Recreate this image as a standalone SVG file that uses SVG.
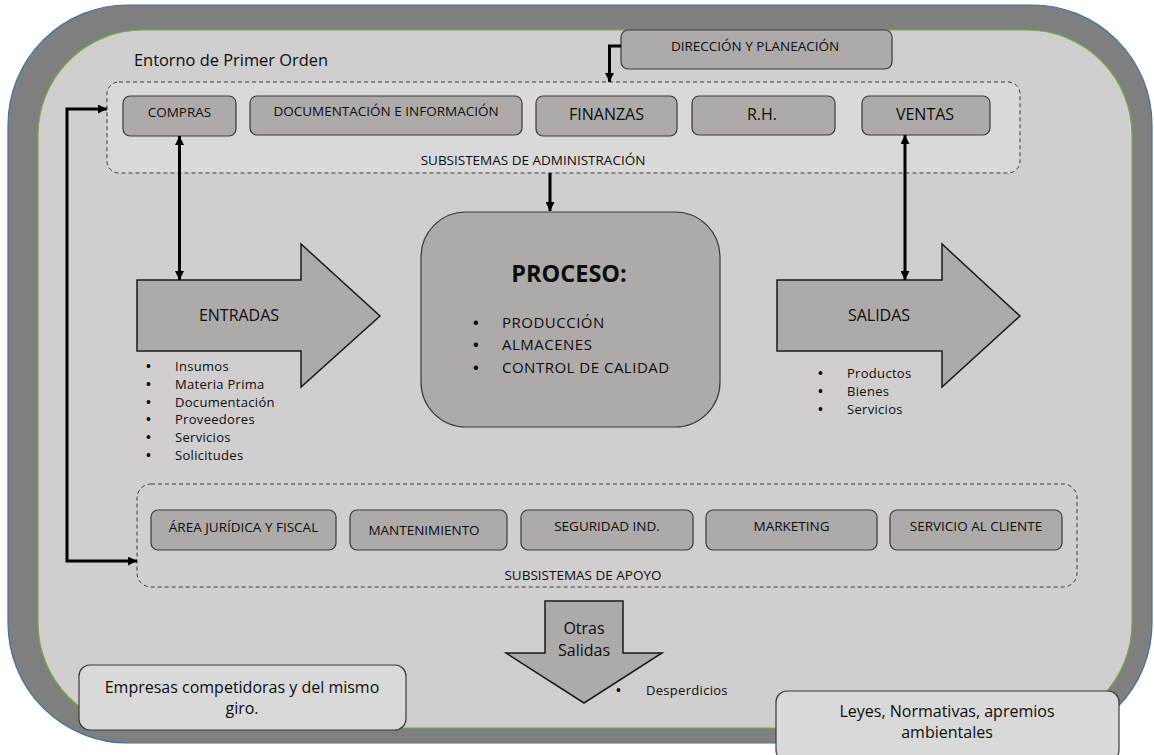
<svg xmlns="http://www.w3.org/2000/svg" width="1154" height="755" viewBox="0 0 1154 755">
  <defs>
    <style>
      text { font-family: "Open Sans", Lato, "Liberation Sans", sans-serif; fill: #0d0d0d; }
      .box { fill: #aeaaaa; stroke: #3a3a3a; stroke-width: 1.2; }
      .note { fill: #d9d9d9; stroke: #3a3a3a; stroke-width: 1.2; }
      .group { stroke: #3a3a3a; stroke-width: 1; stroke-dasharray: 4 3; }
      .shape { fill: #aeaaaa; stroke: #1a1a1a; stroke-width: 1.5; }
      .wire { fill: none; stroke: #000; stroke-width: 3; }
      .lbl { font-size: 13.5px; text-anchor: middle; }
      .lbl16 { font-size: 16px; text-anchor: middle; }
      .item { font-size: 13px; letter-spacing: 0.3px; }
      .dot { font-weight: bold; }
      .note-text { font-size: 16px; text-anchor: middle; }
    </style>
    <marker id="tip" markerUnits="userSpaceOnUse" viewBox="0 0 10 10" refX="10" refY="5" markerWidth="10" markerHeight="9" orient="auto">
      <path d="M0,0 L10,5 L0,10 Z" fill="#000"/>
    </marker>
    <marker id="tail" markerUnits="userSpaceOnUse" viewBox="0 0 10 10" refX="0" refY="5" markerWidth="10" markerHeight="9" orient="auto">
      <path d="M10,0 L0,5 L10,10 Z" fill="#000"/>
    </marker>
  </defs>

  <!-- environment frame -->
  <g id="entorno">
    <rect x="8" y="5" width="1144" height="738" rx="120" fill="#7f7f7f" stroke="#41719c" stroke-width="1.2"/>
    <rect x="38" y="30" width="1094" height="698" rx="105" fill="#d0cece" stroke="#70ad47" stroke-width="1.2"/>
    <text x="134" y="66" font-size="16.4px">Entorno de Primer Orden</text>
  </g>

  <!-- administration subsystems -->
  <g id="admin">
    <rect class="group" x="107" y="82" width="913" height="91" rx="12" fill="#d9d9d9"/>
    <text class="lbl" x="533" y="165">SUBSISTEMAS DE ADMINISTRACIÓN</text>
  </g>
  <g id="compras">
    <rect class="box" x="123" y="96" width="113" height="40" rx="7"/>
    <text class="lbl" x="179.5" y="117">COMPRAS</text>
  </g>
  <g id="documentacion">
    <rect class="box" x="250" y="96" width="272" height="39" rx="7"/>
    <text class="lbl" x="386" y="116" font-size="14px">DOCUMENTACIÓN E INFORMACIÓN</text>
  </g>
  <g id="finanzas">
    <rect class="box" x="536" y="96" width="141" height="40" rx="7"/>
    <text class="lbl16" x="606.5" y="120">FINANZAS</text>
  </g>
  <g id="rh">
    <rect class="box" x="692" y="96" width="143" height="39" rx="7"/>
    <text class="lbl16" x="762" y="120">R.H.</text>
  </g>
  <g id="ventas">
    <rect class="box" x="862" y="96" width="128" height="39" rx="7"/>
    <text class="lbl16" x="925" y="120">VENTAS</text>
  </g>
  <g id="direccion">
    <rect class="box" x="621" y="30" width="271" height="39" rx="7"/>
    <text class="lbl" x="755" y="51">DIRECCIÓN Y PLANEACIÓN</text>
  </g>

  <!-- core process -->
  <g id="proceso">
    <rect class="box" x="421" y="212" width="299" height="215" rx="45" stroke-width="1.4"/>
    <text x="569" y="282" font-size="23.5px" font-weight="bold" text-anchor="middle">PROCESO:</text>
    <g font-size="15px" letter-spacing="0.5">
      <text class="dot" x="473" y="328">•</text><text x="502" y="328">PRODUCCIÓN</text>
      <text class="dot" x="473" y="350">•</text><text x="502" y="350">ALMACENES</text>
      <text class="dot" x="473" y="373">•</text><text x="502" y="373">CONTROL DE CALIDAD</text>
    </g>
  </g>

  <!-- inputs -->
  <g id="entradas">
    <path class="shape" d="M137,280 H301 V244 L380,316 L301,387 V351 H137 Z"/>
    <text class="lbl16" x="239" y="321">ENTRADAS</text>
    <g class="item">
      <text class="dot" x="146" y="371">•</text><text x="175" y="371">Insumos</text>
      <text class="dot" x="146" y="389">•</text><text x="175" y="389">Materia Prima</text>
      <text class="dot" x="146" y="407">•</text><text x="175" y="407">Documentación</text>
      <text class="dot" x="146" y="424">•</text><text x="175" y="424">Proveedores</text>
      <text class="dot" x="146" y="442">•</text><text x="175" y="442">Servicios</text>
      <text class="dot" x="146" y="460">•</text><text x="175" y="460">Solicitudes</text>
    </g>
  </g>

  <!-- outputs -->
  <g id="salidas">
    <path class="shape" d="M777,280 H942 V244 L1020,316 L942,387 V351 H777 Z"/>
    <text class="lbl16" x="879" y="321">SALIDAS</text>
    <g class="item">
      <text class="dot" x="818" y="378">•</text><text x="847" y="378">Productos</text>
      <text class="dot" x="818" y="396">•</text><text x="847" y="396">Bienes</text>
      <text class="dot" x="818" y="414">•</text><text x="847" y="414">Servicios</text>
    </g>
  </g>

  <!-- support subsystems -->
  <g id="apoyo">
    <rect class="group" x="137" y="484" width="940" height="103" rx="14" fill="none"/>
    <text class="lbl" x="583" y="580">SUBSISTEMAS DE APOYO</text>
  </g>
  <g id="juridica">
    <rect class="box" x="151" y="510" width="185" height="40" rx="7"/>
    <text class="lbl" x="243.5" y="532">ÁREA JURÍDICA Y FISCAL</text>
  </g>
  <g id="mantenimiento">
    <rect class="box" x="350" y="510" width="157" height="40" rx="7"/>
    <text class="lbl" x="424" y="535">MANTENIMIENTO</text>
  </g>
  <g id="seguridad">
    <rect class="box" x="521" y="510" width="172" height="40" rx="7"/>
    <text class="lbl" x="607" y="531">SEGURIDAD IND.</text>
  </g>
  <g id="marketing">
    <rect class="box" x="706" y="510" width="171" height="40" rx="7"/>
    <text class="lbl" x="791.5" y="531">MARKETING</text>
  </g>
  <g id="servicio">
    <rect class="box" x="890" y="510" width="172" height="40" rx="7"/>
    <text class="lbl" x="976" y="531">SERVICIO AL CLIENTE</text>
  </g>

  <!-- secondary outputs -->
  <g id="otras-salidas">
    <path class="shape" d="M545,601 H623 V653 H662 L584,703 L506,653 H545 Z"/>
    <text x="584" y="634" font-size="16px" text-anchor="middle">Otras</text>
    <text x="584" y="656" font-size="16px" text-anchor="middle">Salidas</text>
    <text class="item dot" x="616" y="695">•</text>
    <text class="item" x="646" y="695">Desperdicios</text>
  </g>

  <!-- external factors -->
  <g id="competidores">
    <rect class="note" x="79" y="665" width="327" height="65" rx="11"/>
    <text class="note-text" x="242" y="693">Empresas competidoras y del mismo</text>
    <text class="note-text" x="242" y="714">giro.</text>
  </g>
  <g id="leyes">
    <rect class="note" x="776" y="691" width="343" height="70" rx="11"/>
    <text class="note-text" x="947" y="717">Leyes, Normativas, apremios</text>
    <text class="note-text" x="947" y="738">ambientales</text>
  </g>

  <!-- connectors -->
  <g id="connectors">
    <path class="wire" d="M621,46 H609.5 V82" marker-end="url(#tip)"/>
    <path class="wire" d="M550,173 V211" marker-end="url(#tip)"/>
    <path class="wire" d="M179.5,136 V280" marker-start="url(#tail)" marker-end="url(#tip)"/>
    <path class="wire" d="M905,135 V280" marker-start="url(#tail)" marker-end="url(#tip)"/>
    <path class="wire" d="M107,109 H67 V561 H137" marker-start="url(#tail)" marker-end="url(#tip)"/>
  </g>
</svg>
